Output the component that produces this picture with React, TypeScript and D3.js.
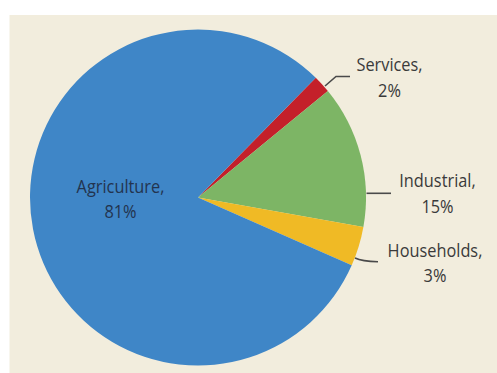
import React from "react";
import * as d3 from "d3";

const categories = ["Services", "Industrial", "Households", "Agriculture"];
const sliceValues = [1.7, 13.75, 3.8, 80.75];
const labelPercents = ["2%", "15%", "3%", "81%"];
const colors = ["#C4202A", "#7DB565", "#F0BA25", "#3F86C7"];

const W = 497;
const H = 373;
const cx = 198;
const cy = 197.5;
const R = 168;
const startDeg = 44.5;

const labelPos: Record<string, { x: number; y: number; fill: string }> = {
  Services: { x: 389.5, y: 71, fill: "#3a3a3a" },
  Industrial: { x: 437.5, y: 187, fill: "#3a3a3a" },
  Households: { x: 435, y: 256.5, fill: "#3a3a3a" },
  Agriculture: { x: 120.5, y: 192.5, fill: "#23344f" },
};

const leaders = [
  "M325,86 L336,76.5 L350,76.5",
  "M366.5,193.3 L391,193.3",
  "M355,258 Q362,261.5 378,261.7",
];

export default function App() {
  const data = categories.map((c, i) => ({ c, v: sliceValues[i], p: labelPercents[i], col: colors[i] }));
  const pie = d3
    .pie<any>()
    .value((d) => d.v)
    .sort(null)
    .startAngle((startDeg * Math.PI) / 180)
    .endAngle((startDeg * Math.PI) / 180 + 2 * Math.PI);
  const arc = d3.arc<any>().innerRadius(0).outerRadius(R);
  const arcs = pie(data);
  return (
    <svg width={W} height={H} style={{ position: "absolute", left: 0, top: 0 }}>
      <rect x={0} y={0} width={W} height={H} fill="#ffffff" />
      <rect x={9.5} y={15} width={W - 9.5} height={H - 15} fill="#F2EDDD" />
      <g transform={`translate(${cx},${cy})`}>
        {arcs.map((a, i) => (
          <path key={i} d={arc(a) || ""} fill={a.data.col} />
        ))}
      </g>
      {leaders.map((d, i) => (
        <path key={i} d={d} fill="none" stroke="#4a4a4a" strokeWidth={1.6} />
      ))}
      {data.map((d) => {
        const lp = labelPos[d.c];
        return (
          <g key={d.c} transform={`translate(${lp.x},${lp.y}) scale(0.86,1)`}>
            <text x={0} y={0} textAnchor="middle" fill={lp.fill} fontFamily="'Open Sans', sans-serif" fontSize={19}>
              {d.c},
            </text>
            <text x={0} y={26} textAnchor="middle" fill={lp.fill} fontFamily="'Open Sans', sans-serif" fontSize={19}>
              {d.p}
            </text>
          </g>
        );
      })}
    </svg>
  );
}
